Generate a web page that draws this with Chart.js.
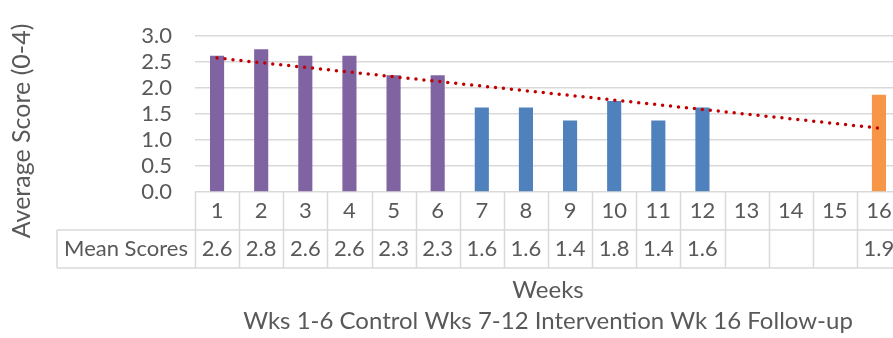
<!DOCTYPE html>
<html>
<head>
  <title>Average Score by Week</title>
  <script src="https://cdn.jsdelivr.net/npm/chart.js"></script>
  <style>
    html, body {
      margin: 0;
      padding: 0;
      background: #fff;
      overflow: hidden;
    }
    .wrap {
      width: 902px;
      height: 338px;
      position: relative;
    }
  </style>
</head>
<body>
<div class="wrap">
  <canvas id="weeksChart"></canvas>
</div>
<script>
  // ==== Data ====
  const weeks = ['1', '2', '3', '4', '5', '6', '7', '8', '9', '10', '11', '12', '13', '14', '15', '16'];
  const meanScores = [2.625, 2.75, 2.625, 2.625, 2.25, 2.25, 1.625, 1.625, 1.375, 1.75, 1.375, 1.625, null, null, null, 1.875];
  const meanLabels = ['2.6', '2.8', '2.6', '2.6', '2.3', '2.3', '1.6', '1.6', '1.4', '1.8', '1.4', '1.6', '', '', '', '1.9'];
  const trendLine = [2.58, null, null, null, null, null, null, null, null, null, null, null, null, null, null, 1.23];
  const yTicks = [0, 0.5, 1.0, 1.5, 2.0, 2.5, 3.0];
  const rowTitle = 'Mean Scores';
  const xTitle = 'Weeks';
  const xSubtitle = 'Wks 1-6 Control Wks 7-12 Intervention Wk 16 Follow-up';
  const yTitle = 'Average Score (0-4)';

  // colours per phase: control, intervention, follow-up
  const barColors = weeks.map((w, i) => i < 6 ? '#8064A2' : (i < 12 ? '#4F81BD' : '#F79646'));

  const textColor = '#595959';
  const lineColor = '#D9D9D9';
  const fontFamily = 'Lato, "Open Sans", sans-serif';

  // ==== Table + titles under the axis ====
  const tablePlugin = {
    id: 'tablePlugin',
    afterDraw(chart) {
      const { ctx, chartArea } = chart;
      const x = chart.scales.x;
      const top = chartArea.bottom;
      const row1 = top + 38;
      const row2 = row1 + 38;
      const labelLeft = 57;

      ctx.save();
      ctx.strokeStyle = lineColor;
      ctx.lineWidth = 1.5;
      ctx.beginPath();
      ctx.moveTo(labelLeft, row1); ctx.lineTo(chartArea.right, row1);
      ctx.moveTo(labelLeft, row2); ctx.lineTo(chartArea.right, row2);
      ctx.moveTo(labelLeft, row1); ctx.lineTo(labelLeft, row2);
      for (let i = 0; i <= weeks.length; i++) {
        const px = Math.round(x.getPixelForValue(i - 0.5)) + 0.5;
        ctx.moveTo(px, top); ctx.lineTo(px, row2);
      }
      ctx.stroke();

      ctx.fillStyle = textColor;
      ctx.font = '22px ' + fontFamily;
      ctx.textAlign = 'center';
      ctx.textBaseline = 'middle';
      const midRow = (row1 + row2) / 2;
      ctx.fillText(rowTitle, (labelLeft + chartArea.left) / 2, midRow);
      meanLabels.forEach((t, i) => {
        if (t) ctx.fillText(t, x.getPixelForValue(i), midRow);
      });

      ctx.font = '24px ' + fontFamily;
      const cx = (chartArea.left + chartArea.right) / 2;
      ctx.fillText(xTitle, cx, 290);
      ctx.fillText(xSubtitle, cx, 321);

      ctx.font = '25px ' + fontFamily;
      ctx.translate(22, 131);
      ctx.rotate(-Math.PI / 2);
      ctx.fillText(yTitle, 0, 0);
      ctx.restore();
    }
  };

  new Chart(document.getElementById('weeksChart'), {
    data: {
      labels: weeks,
      datasets: [
        {
          type: 'line',
          label: 'Trend',
          data: trendLine,
          spanGaps: true,
          borderColor: '#C00000',
          borderWidth: 3.5,
          borderDash: [0, 8],
          borderCapStyle: 'round',
          pointRadius: 0,
          fill: false,
          order: 0
        },
        {
          type: 'bar',
          label: rowTitle,
          data: meanScores,
          backgroundColor: barColors,
          barPercentage: 0.32,
          categoryPercentage: 1.0,
          order: 1
        }
      ]
    },
    options: {
      responsive: true,
      maintainAspectRatio: false,
      animation: false,
      events: [],
      layout: { padding: { top: 17, right: 1, left: 0, bottom: 0 } },
      plugins: {
        legend: { display: false },
        tooltip: { enabled: false }
      },
      scales: {
        x: {
          offset: true,
          grid: { display: false, drawTicks: false },
          border: { display: false },
          ticks: {
            color: textColor,
            font: { family: fontFamily, size: 22, lineHeight: 1.2 },
            padding: 6,
            maxRotation: 0,
            autoSkip: false
          },
          afterFit(scale) { scale.height = 146; }
        },
        y: {
          min: 0,
          max: 3,
          afterBuildTicks(scale) { scale.ticks = yTicks.map(v => ({ value: v })); },
          grid: { color: lineColor, lineWidth: 1.5, drawTicks: false },
          border: { display: false },
          ticks: {
            color: textColor,
            font: { family: fontFamily, size: 22 },
            padding: 23,
            autoSkip: false,
            callback: v => v.toFixed(1)
          },
          afterFit(scale) { scale.width = 195; }
        }
      }
    },
    plugins: [tablePlugin]
  });
</script>
</body>
</html>
